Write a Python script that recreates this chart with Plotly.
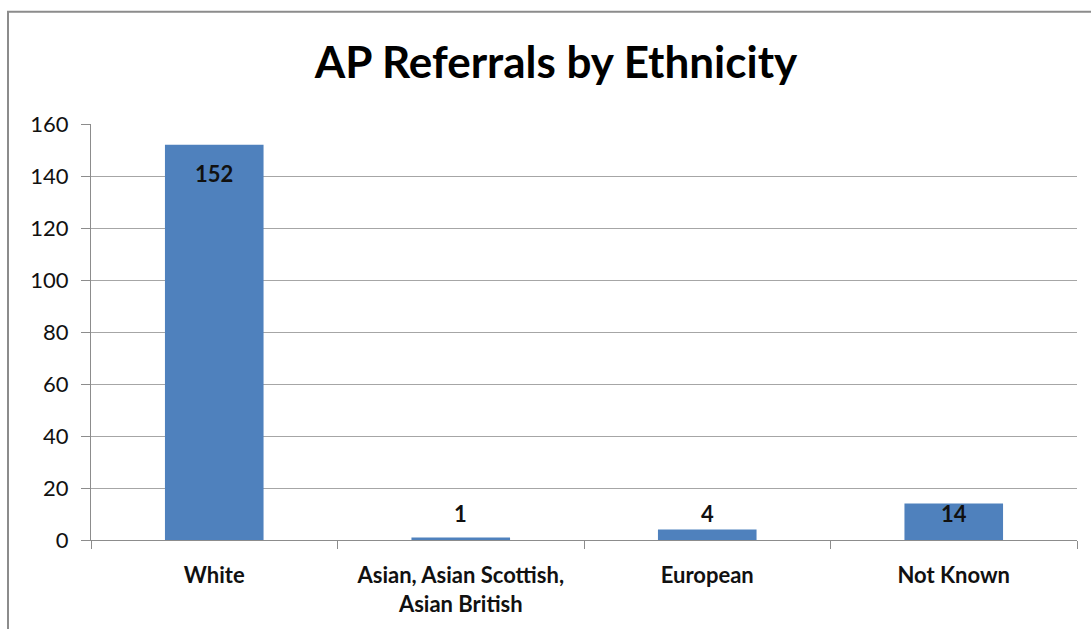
import plotly.graph_objects as go

categories = ["White", "Asian, Asian Scottish,<br>Asian British", "European", "Not Known"]
referrals = [152, 1, 4, 14]
y_ticks = [0, 20, 40, 60, 80, 100, 120, 140, 160]

BAR_COLOR = "#4F81BD"
GRID = "#A6A6A6"
AXIS = "#8C8C8C"
FONT = "Lato"

W, H = 1091, 629
M_L, M_R, M_T, M_B = 91, 14, 123.5, 89
plot_w = W - M_L - M_R
plot_h = H - M_T - M_B
y_max = 160
px_per_unit = plot_h / y_max

fig = go.Figure(
    go.Bar(
        x=categories,
        y=referrals,
        marker=dict(color=BAR_COLOR, line=dict(width=0)),
        width=0.4,
        hoverinfo="x+y",
    )
)

# value labels: placed just inside the bar top, but never lower than a floor above the axis
label_offset = 29 / px_per_unit
label_floor = 27 / px_per_unit
for cat, v in zip(categories, referrals):
    fig.add_annotation(
        x=cat, y=max(v - label_offset, label_floor),
        text=f"<b>{v}</b>", showarrow=False,
        xref="x", yref="y", yanchor="middle",
        font=dict(family=FONT, size=22, color="#111111"),
    )

# chart frame
fig.add_shape(
    type="rect", xref="paper", yref="paper",
    x0=(8 - M_L) / plot_w, x1=(1100 - M_L) / plot_w,
    y0=(M_T + plot_h - 640) / plot_h, y1=(M_T + plot_h - 11) / plot_h,
    line=dict(color="#8C8C8C", width=2), fillcolor="rgba(0,0,0,0)", layer="below",
)

fig.update_layout(
    width=W, height=H,
    margin=dict(l=M_L, r=M_R, t=M_T, b=M_B, pad=0),
    paper_bgcolor="white", plot_bgcolor="white",
    showlegend=False,
    title=dict(
        text="<b>AP Referrals by Ethnicity</b>",
        x=(556) / W, xanchor="center",
        y=1 - 63 / H, yanchor="middle",
        font=dict(family=FONT, size=44, color="#000000"),
    ),
    xaxis=dict(
        type="category",
        showline=True, linecolor=AXIS, linewidth=1,
        ticks="outside", ticklen=8, tickcolor=AXIS, tickson="boundaries",
        showgrid=False,
        tickvals=categories,
        ticktext=[f"<b>{c}</b>".replace("<br>", "</b><br><b>") for c in categories],
        tickfont=dict(family=FONT, size=22, color="#111111"),
        ticklabelstandoff=16,
    ),
    yaxis=dict(
        range=[0, y_max],
        tickvals=y_ticks,
        showline=True, linecolor=AXIS, linewidth=1,
        ticks="outside", ticklen=9, tickcolor=AXIS,
        showgrid=True, gridcolor=GRID, gridwidth=1,
        zeroline=False,
        tickfont=dict(family=FONT, size=22, color="#111111"),
        ticklabelstandoff=8,
    ),
)

fig.write_html("out.html")
